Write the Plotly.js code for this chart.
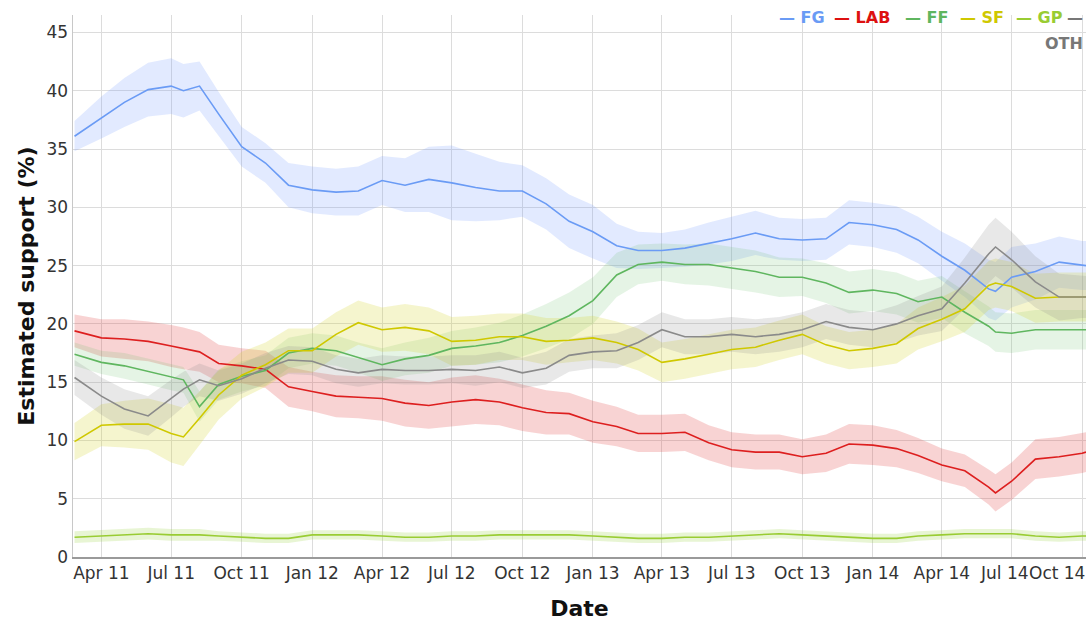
<!DOCTYPE html>
<html>
<head>
<meta charset="utf-8">
<script src="https://cdn.plot.ly/plotly-3.0.1.min.js"></script>
<style>html,body{margin:0;padding:0;background:#fff;}#chart{width:1091px;height:631px;}</style>
</head>
<body>
<div id="chart"></div>
<script>
// ---- data ----
const dates = ['2011-02-25','2011-04-01','2011-05-01','2011-06-01','2011-07-01','2011-07-17','2011-08-07','2011-09-01','2011-10-01','2011-11-01','2011-12-01',
  '2012-01-01','2012-02-01','2012-03-01','2012-04-01','2012-05-01','2012-06-01','2012-07-01','2012-08-01','2012-09-01','2012-10-01','2012-11-01','2012-12-01',
  '2013-01-01','2013-02-01','2013-03-01','2013-04-01','2013-05-01','2013-06-01','2013-07-01','2013-08-01','2013-09-01','2013-10-01','2013-11-01','2013-12-01',
  '2014-01-01','2014-02-01','2014-03-01','2014-04-01','2014-05-01','2014-06-01','2014-06-10','2014-07-01','2014-08-01','2014-09-01','2014-10-01','2014-10-06'];

const FG  = [36.1,37.7,39.0,40.1,40.4,40.0,40.4,38.0,35.2,33.8,31.9,31.5,31.3,31.4,32.3,31.9,32.4,32.1,31.7,31.4,31.4,30.3,28.8,27.9,26.7,26.3,26.3,26.5,26.9,27.3,27.8,27.3,27.2,27.3,28.7,28.5,28.1,27.2,25.8,24.6,23.0,22.8,24.0,24.5,25.3,25.0,25.0];
const FG_err  = [1.3,1.8,2.1,2.3,2.4,2.3,2.1,1.9,1.7,1.7,1.9,2.0,2.0,2.1,2.1,2.3,2.8,3.2,2.9,2.5,2.2,2.2,2.3,2.3,1.9,1.6,1.5,1.6,1.8,1.9,1.9,1.8,1.8,1.8,1.9,1.9,2.0,2.0,2.1,2.3,2.5,2.5,2.6,2.4,2.2,2.1,2.1];

const LAB = [19.4,18.8,18.7,18.5,18.1,17.9,17.6,16.6,16.4,16.1,14.6,14.2,13.8,13.7,13.6,13.2,13.0,13.3,13.5,13.3,12.8,12.4,12.3,11.6,11.2,10.6,10.6,10.7,9.8,9.2,9.0,9.0,8.6,8.9,9.7,9.6,9.3,8.7,7.9,7.4,6.0,5.5,6.5,8.4,8.6,8.9,9.0];
const LAB_err = [1.4,1.6,1.7,1.7,1.8,1.8,1.7,1.6,1.5,1.6,1.7,1.7,1.8,1.8,1.9,2.0,2.0,2.1,2.1,2.0,2.0,1.9,1.8,1.8,1.7,1.6,1.6,1.6,1.5,1.5,1.5,1.5,1.5,1.6,1.7,1.7,1.6,1.5,1.4,1.4,1.5,1.6,1.6,1.7,1.7,1.7,1.7];

const FF  = [17.4,16.7,16.4,15.9,15.4,15.2,12.9,14.8,15.5,16.0,17.5,17.9,17.7,17.1,16.5,17.0,17.3,17.9,18.1,18.4,19.0,19.8,20.7,22.0,24.2,25.1,25.3,25.1,25.1,24.8,24.5,24.0,24.0,23.5,22.7,22.9,22.6,21.9,22.3,21.0,19.8,19.3,19.2,19.5,19.5,19.5,19.5];
const FF_err  = [1.0,1.0,1.1,1.1,1.1,1.1,1.3,1.3,1.3,1.3,1.3,1.3,1.3,1.3,1.4,1.4,1.5,1.5,1.6,1.7,1.8,1.9,2.0,2.0,1.9,1.7,1.6,1.7,1.8,1.8,1.8,1.7,1.6,1.7,1.8,1.8,1.8,1.8,1.8,1.8,1.7,1.7,1.7,1.7,1.7,1.7,1.7];

const SF  = [9.9,11.3,11.4,11.4,10.6,10.3,11.9,13.9,15.6,16.5,17.7,17.7,19.1,20.1,19.5,19.7,19.4,18.5,18.6,18.9,18.9,18.5,18.6,18.8,18.4,17.8,16.7,17.0,17.4,17.8,18.0,18.6,19.1,18.2,17.7,17.9,18.3,19.6,20.4,21.3,23.3,23.5,23.2,22.2,22.3,22.3,22.3];
const SF_err  = [1.6,1.8,2.0,2.2,2.5,2.5,2.3,2.1,2.0,1.9,1.9,1.9,1.9,1.9,1.9,2.0,2.0,2.1,2.1,2.0,2.0,2.0,1.9,1.9,1.8,1.8,1.7,1.7,1.7,1.7,1.7,1.7,1.7,1.6,1.6,1.6,1.7,1.8,1.9,2.0,2.1,2.1,2.1,2.1,2.1,2.1,2.1];

const GP  = [1.7,1.8,1.9,2.0,1.9,1.9,1.9,1.8,1.7,1.6,1.6,1.9,1.9,1.9,1.8,1.7,1.7,1.8,1.8,1.9,1.9,1.9,1.9,1.8,1.7,1.6,1.6,1.7,1.7,1.8,1.9,2.0,1.9,1.8,1.7,1.6,1.6,1.8,1.9,2.0,2.0,2.0,2.0,1.8,1.7,1.8,1.8];
const GP_err  = [0.5,0.5,0.5,0.5,0.5,0.5,0.5,0.4,0.4,0.4,0.4,0.4,0.4,0.4,0.4,0.4,0.4,0.4,0.4,0.4,0.4,0.4,0.4,0.4,0.4,0.4,0.4,0.4,0.4,0.4,0.4,0.4,0.4,0.4,0.4,0.4,0.4,0.4,0.4,0.4,0.4,0.4,0.4,0.4,0.4,0.4,0.4];

const OTH = [15.4,13.8,12.7,12.1,13.6,14.4,15.2,14.7,15.3,16.2,16.9,16.8,16.1,15.8,16.1,16.0,16.0,16.1,16.0,16.3,15.8,16.2,17.3,17.6,17.7,18.4,19.5,18.9,18.9,19.1,18.9,19.1,19.5,20.2,19.7,19.5,20.0,20.7,21.3,23.5,26.0,26.6,25.5,23.6,22.3,22.3,22.3];
const OTH_err = [1.5,1.6,1.7,1.7,1.6,1.5,1.4,1.3,1.3,1.3,1.2,1.2,1.2,1.2,1.2,1.2,1.2,1.2,1.3,1.3,1.3,1.4,1.4,1.4,1.5,1.5,1.5,1.5,1.5,1.5,1.5,1.5,1.5,1.5,1.5,1.5,1.6,1.7,1.9,2.2,2.5,2.5,2.4,2.2,2.0,1.8,1.8];

const seriesNames = ['FG','LAB','FF','SF','GP','OTH'];
const tickDates = ['2011-04-01','2011-07-01','2011-10-01','2012-01-01','2012-04-01','2012-07-01','2012-10-01','2013-01-01','2013-04-01','2013-07-01','2013-10-01','2014-01-01','2014-04-01','2014-07-01','2014-10-01'];
const tickLabels = ['Apr 11','Jul 11','Oct 11','Jan 12','Apr 12','Jul 12','Oct 12','Jan 13','Apr 13','Jul 13','Oct 13','Jan 14','Apr 14','Jul 14','Oct 14'];

// ---- styling ----
const FONT = 'DejaVu Sans, Verdana, sans-serif';
const lineColors = {FG:'#6a9bf5', LAB:'#dd1f1f', FF:'#5fb65f', SF:'#cfc800', GP:'#99cc33', OTH:'#8a8a8a'};
const bandColors = {FG:'rgba(110,150,255,0.20)', LAB:'rgba(225,70,70,0.24)', FF:'rgba(100,190,100,0.17)', SF:'rgba(215,215,50,0.24)', GP:'rgba(150,210,60,0.22)', OTH:'rgba(140,140,140,0.20)'};
const legendColors = {FG:'#6a9bf5', LAB:'#dd1111', FF:'#5fb65f', SF:'#cfc800', GP:'#99cc33', OTH:'#777777'};

const vals = {FG, LAB, FF, SF, GP, OTH};
const errs = {FG:FG_err, LAB:LAB_err, FF:FF_err, SF:SF_err, GP:GP_err, OTH:OTH_err};

const traces = [];
seriesNames.forEach(n => {
  const up = vals[n].map((v,i) => v + errs[n][i]);
  const lo = vals[n].map((v,i) => v - errs[n][i]);
  traces.push({
    x: dates.concat(dates.slice().reverse()),
    y: up.concat(lo.slice().reverse()),
    type: 'scatter', mode: 'lines', fill: 'toself',
    fillcolor: bandColors[n], line: {width: 0, color: 'rgba(0,0,0,0)'},
    hoverinfo: 'skip', showlegend: false, name: n + ' band'
  });
});
seriesNames.forEach(n => {
  traces.push({
    x: dates, y: vals[n], type: 'scatter', mode: 'lines', name: n,
    line: {color: lineColors[n], width: 1.6}, showlegend: false
  });
});

// legend as text annotations (compact dash + label, as in the reference)
const legendPos = {FG:0.695, LAB:0.749, FF:0.819, SF:0.874, GP:0.929};
const annotations = [];
['FG','LAB','FF','SF','GP'].forEach(n => {
  annotations.push({xref:'paper', yref:'paper', x: legendPos[n], y: 0.995, xanchor:'left', yanchor:'middle',
    text: '<b>— ' + n + '</b>', showarrow:false, font:{family:FONT, size:16, color:legendColors[n]}});
});
annotations.push({xref:'paper', yref:'paper', x:0.979, y:0.995, xanchor:'left', yanchor:'middle',
  text:'<b>—</b>', showarrow:false, font:{family:FONT, size:16, color:legendColors.OTH}});
annotations.push({xref:'paper', yref:'paper', x:0.999, y:0.947, xanchor:'right', yanchor:'middle',
  text:'<b>OTH</b>', showarrow:false, font:{family:FONT, size:16, color:legendColors.OTH}});
// last two tick labels, squeezed inside the figure as in the reference
const nT = tickLabels.length;
annotations.push({xref:'x', yref:'paper', x:tickDates[nT-2], y:0, xanchor:'center', yanchor:'top', yshift:-4, xshift:-7,
  text: tickLabels[nT-2], showarrow:false, font:{family:FONT, size:17, color:'#333'}});
annotations.push({xref:'paper', yref:'paper', x:1.0, y:0, xanchor:'right', yanchor:'top', yshift:-4, xshift:1,
  text: tickLabels[nT-1], showarrow:false, font:{family:FONT, size:17, color:'#333'}});

const layout = {
  width: 1091, height: 631,
  margin: {l: 73, r: 5, t: 15, b: 74},
  paper_bgcolor: '#fff', plot_bgcolor: '#fff',
  showlegend: false,
  font: {family: FONT, color: '#333'},
  xaxis: {
    type: 'date', range: ['2011-02-23', '2014-10-06'],
    tickmode: 'array', tickvals: tickDates,
    ticktext: tickLabels.map((t,i) => i >= nT-2 ? '' : t),
    tickfont: {family: FONT, size: 17, color: '#333'},
    gridcolor: '#dcdcdc', gridwidth: 1, showline: true, linecolor: '#9a9a9a', linewidth: 1.5,
    ticks: '', zeroline: false, fixedrange: true,
    title: {text: '<b>Date</b>', font: {family: FONT, size: 22, color: '#111'}, standoff: 18}
  },
  yaxis: {
    range: [0, 46.5], tick0: 0, dtick: 5,
    tickfont: {family: FONT, size: 17, color: '#333'},
    gridcolor: '#dcdcdc', gridwidth: 1, showline: true, linecolor: '#c8c8c8', linewidth: 1.5,
    ticks: '', zeroline: false, fixedrange: true,
    title: {text: '<b>Estimated support (%)</b>', font: {family: FONT, size: 22, color: '#111'}, standoff: 6}
  },
  shapes: [{type:'rect', xref:'paper', yref:'paper', x0:0.686, x1:1.01, y0:0.935, y1:1.03,
    fillcolor:'#fff', line:{width:0}, layer:'between'}],
  annotations: annotations
};

Plotly.newPlot('chart', traces, layout, {displayModeBar: false, staticPlot: true});
</script>
</body>
</html>
